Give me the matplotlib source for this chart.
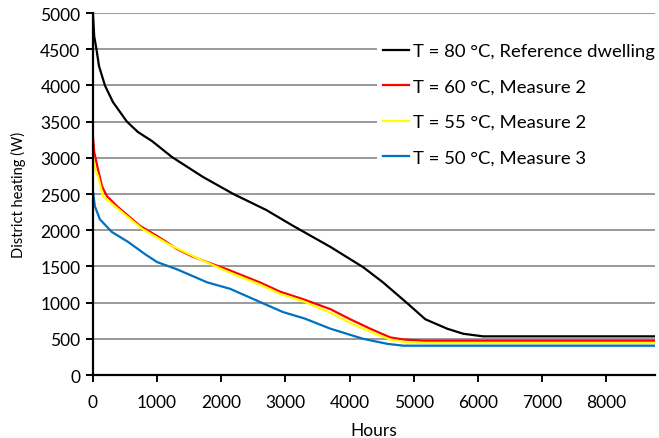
import matplotlib
matplotlib.use("Agg")
import matplotlib.pyplot as plt

plt.rcParams['font.family'] = ['Lato', 'DejaVu Sans']

# Data (hours, W)
h_ref = [0, 20, 57, 94, 187, 312, 530, 702, 920, 1232, 1716, 2190, 2700, 3120, 3700, 4210, 4520, 4900, 5180, 5520, 5770, 6080, 8760]
w_ref = [5000, 4680, 4490, 4270, 4000, 3770, 3500, 3356, 3232, 3011, 2735, 2500, 2280, 2060, 1770, 1490, 1280, 990, 770, 640, 570, 534, 534]

h_60 = [0, 20, 78, 140, 218, 390, 733, 1000, 1123, 1310, 1544, 1780, 2090, 2600, 2920, 3300, 3700, 4010, 4320, 4630, 4840, 5150, 8760]
w_60 = [3300, 3080, 2845, 2610, 2470, 2320, 2060, 1920, 1850, 1740, 1640, 1560, 1460, 1280, 1150, 1040, 910, 770, 640, 520, 490, 474, 474]

h_55 = [0, 20, 78, 156, 343, 765, 1170, 1591, 2090, 2600, 2920, 3300, 3700, 4010, 4320, 4630, 4900, 5200, 8760]
w_55 = [3025, 2880, 2750, 2470, 2330, 2020, 1810, 1630, 1430, 1250, 1120, 1010, 860, 720, 600, 490, 450, 442, 442]

h_50 = [0, 31, 109, 296, 546, 811, 1000, 1310, 1780, 2140, 2600, 2960, 3300, 3700, 4210, 4590, 4840, 8760]
w_50 = [2540, 2330, 2150, 1975, 1840, 1670, 1560, 1460, 1280, 1190, 1010, 870, 780, 640, 500, 430, 405, 405]

labels = ["T = 80 °C, Reference dwelling", "T = 60 °C, Measure 2",
          "T = 55 °C, Measure 2", "T = 50 °C, Measure 3"]
colors = ["#000000", "#ff0000", "#ffff00", "#0070c0"]

fig = plt.figure(figsize=(6.59, 4.39), dpi=100)
ax = fig.add_axes([0.141, 0.1435, 0.853, 0.8245])

for (h, w), lab, c in zip([(h_ref, w_ref), (h_60, w_60), (h_55, w_55), (h_50, w_50)], labels, colors):
    ax.plot(h, w, color=c, lw=1.6, label=lab)

ax.set_xlim(0, 8760)
ax.set_ylim(0, 5000)
ax.set_xticks(range(0, 9000, 1000))
ax.set_yticks(range(0, 5001, 500))
ax.yaxis.grid(True, color="#9a9a9a", lw=1.4)
ax.set_axisbelow(True)
for s in ["top", "right"]:
    ax.spines[s].set_visible(False)
for s in ["left", "bottom"]:
    ax.spines[s].set_linewidth(1.6)
ax.tick_params(axis='both', direction='out', length=5, width=1.4, labelsize=12.5, colors='black')
ax.tick_params(axis='x', pad=9)
ax.tick_params(axis='y', pad=4)
ax.set_xlabel("Hours", fontsize=12.5, labelpad=8)
ax.set_ylabel("District heating (W)", fontsize=10.5, labelpad=10)

leg = ax.legend(loc='upper left', bbox_to_anchor=(0.506, 0.932), fontsize=13.3,
                frameon=True, fancybox=False, edgecolor='none', facecolor='white',
                framealpha=1.0, handlelength=1.42, handletextpad=0.2,
                labelspacing=1.05, borderpad=0.3, borderaxespad=0.0)

fig.savefig("out.png", dpi=100)
